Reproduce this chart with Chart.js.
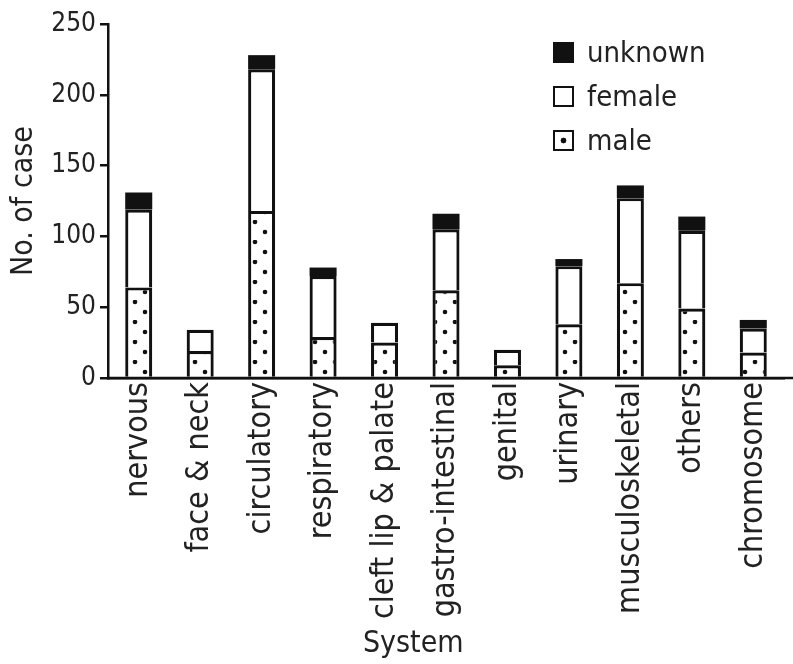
<!DOCTYPE html>
<html>
<head>
<meta charset="utf-8">
<script src="https://cdn.jsdelivr.net/npm/chart.js@4.4.0/dist/chart.umd.min.js"></script>
<style>
  html, body { margin: 0; padding: 0; background: #fff; }
  #wrap { position: relative; width: 793px; height: 664px; }
  #legend { position: absolute; left: 553px; top: 30px; }
  .item { display: flex; align-items: center; height: 44px; color: #222; }
  .box { width: 17px; height: 17px; border: 2.5px solid #111; margin-right: 13px; background: #fff; }
</style>
</head>
<body>
<div id="wrap">
  <canvas id="chart" width="793" height="664"></canvas>
  <div id="legend"></div>
</div>
<script>
const categories = ['nervous', 'face & neck', 'circulatory', 'respiratory', 'cleft lip & palate',
  'gastro-intestinal', 'genital', 'urinary', 'musculoskeletal', 'others', 'chromosome'];
const male    = [64, 19, 118, 29, 25, 62,  9, 38, 67, 49, 18];
const female  = [55, 15, 100, 43, 14, 43, 11, 41, 60, 55, 17];
const unknown = [12,  0,  10,  6,  0, 11,  0,  5,  9, 10,  6];
const yTicks  = [0, 50, 100, 150, 200, 250];

// pick a narrow sans if there is one
function hasFont(name) {
  const c = document.createElement('canvas').getContext('2d');
  c.font = '40px monospace';
  const a = c.measureText('musculoskeletal').width;
  c.font = '40px "' + name + '", monospace';
  return c.measureText('musculoskeletal').width !== a;
}
let family = 'Liberation Sans', k = 0.82;
if (hasFont('Liberation Sans Narrow')) { family = 'Liberation Sans Narrow'; k = 1; }
else if (hasFont('DejaVu Sans Condensed')) { family = 'DejaVu Sans Condensed'; k = 0.8; }
const px = n => Math.round(n * k);

function dots() {
  const c = document.createElement('canvas');
  c.width = 20; c.height = 20;
  const g = c.getContext('2d');
  g.fillStyle = '#fff';
  g.fillRect(0, 0, 20, 20);
  g.fillStyle = '#111';
  [[15, 2], [5, 12]].forEach(([x, y]) => {
    g.beginPath(); g.arc(x, y, 2.3, 0, Math.PI * 2); g.fill();
  });
  return g.createPattern(c, 'repeat');
}

// x axis line runs on to the edge of the picture, System title sits left of centre
const extras = {
  id: 'extras',
  afterDraw(chart) {
    const ctx = chart.ctx, x = chart.scales.x;
    ctx.save();
    ctx.strokeStyle = '#111';
    ctx.lineWidth = 2.5;
    ctx.beginPath();
    ctx.moveTo(chart.chartArea.left, x.top);
    ctx.lineTo(chart.width, x.top);
    ctx.stroke();
    ctx.fillStyle = '#222';
    ctx.font = px(37) + 'px "' + family + '"';
    ctx.textAlign = 'center';
    ctx.textBaseline = 'middle';
    ctx.fillText('System', (x.getPixelForValue(4) + x.getPixelForValue(5)) / 2 - 2, chart.height - 20);
    ctx.restore();
  }
};

const chart = new Chart(document.getElementById('chart'), {
  type: 'bar',
  data: {
    labels: categories,
    datasets: [
      { label: 'male', data: male, backgroundColor: dots(), borderColor: '#111', borderWidth: 3.2 },
      { label: 'female', data: female, backgroundColor: '#fff', borderColor: '#111', borderWidth: 3.2 },
      { label: 'unknown', data: unknown, backgroundColor: '#111', borderWidth: 0 }
    ]
  },
  options: {
    responsive: false,
    animation: false,
    barPercentage: 0.44,
    categoryPercentage: 1,
    layout: { padding: { top: 24, right: 9, left: 0, bottom: 0 } },
    plugins: { legend: { display: false }, tooltip: { enabled: false } },
    scales: {
      x: {
        stacked: true,
        z: 1,
        grid: { display: false, drawTicks: false },
        border: { display: true, color: '#111', width: 2.5 },
        ticks: {
          autoSkip: false, minRotation: 90, maxRotation: 90, padding: 4,
          color: '#222', font: { family: family, size: px(39.5) }
        },
        afterFit: s => { s.height = 286; s.paddingLeft = 0; s.paddingRight = 0; }
      },
      y: {
        stacked: true,
        z: 1,
        min: 0, max: 250,
        afterBuildTicks: s => { s.ticks = yTicks.map(v => ({ value: v })); },
        grid: { drawOnChartArea: false, color: '#111', lineWidth: 2.5, tickLength: 8 },
        border: { display: true, color: '#111', width: 2.5 },
        ticks: { padding: 4, color: '#222', font: { family: family, size: px(32) } },
        title: {
          display: true, text: 'No. of case', color: '#222',
          padding: { top: 6, bottom: 0 }, font: { family: family, size: px(38) }
        },
        afterFit: s => { s.width = 108; s.paddingTop = 0; s.paddingBottom = 0; }
      }
    }
  },
  plugins: [extras]
});

// legend: unknown on top, male at the bottom
const legend = document.getElementById('legend');
const swatch = {
  unknown: 'background:#111',
  female: 'background:#fff',
  male: 'background:radial-gradient(circle, #111 0 2.6px, #fff 3.2px)'
};
chart.data.datasets.slice().reverse().forEach(ds => {
  const row = document.createElement('div');
  row.className = 'item';
  row.style.font = px(36) + 'px "' + family + '"';
  row.innerHTML = '<span class="box" style="' + swatch[ds.label] + '"></span>' + ds.label;
  legend.appendChild(row);
});
</script>
</body>
</html>
